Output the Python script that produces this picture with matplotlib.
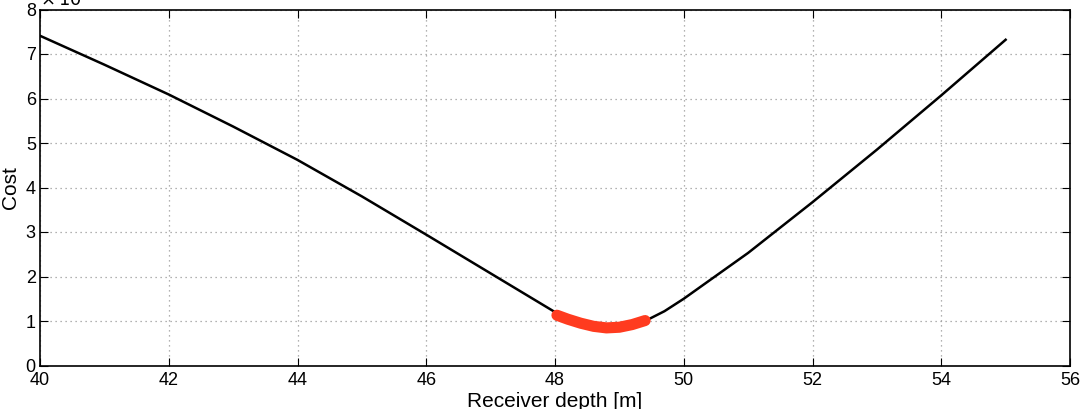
import matplotlib.pyplot as plt

plt.rcParams['font.family'] = ['Liberation Sans', 'DejaVu Sans']

# black cost curve (values in units of 10^4)
depth = [40, 41, 42, 43, 44, 45, 46, 47, 48, 48.5, 48.8, 49.1, 49.4, 49.7,
         50, 51, 52, 53, 54, 55]
cost = [7.41, 6.76, 6.09, 5.37, 4.62, 3.8, 2.94, 2.07, 1.2, 0.92, 0.845, 0.88, 1.0, 1.22,
        1.5, 2.53, 3.67, 4.85, 6.07, 7.32]

# red highlighted segment near the minimum
red_depth = [48.03, 48.2, 48.4, 48.6, 48.8, 49.0, 49.2, 49.4]
red_cost = [1.13, 1.04, 0.95, 0.88, 0.845, 0.86, 0.92, 1.01]

fig = plt.figure(figsize=(10.8, 4.09), dpi=100)
ax = fig.add_axes([40 / 1080, 43.5 / 409, 1030 / 1080, 356 / 409])

ax.plot(depth, cost, color='black', lw=1.8)
ax.plot(red_depth, red_cost, color='#ff3b1f', lw=8, solid_capstyle='round')

ax.set_xlim(40, 56)
ax.set_ylim(0, 8)
ax.set_xticks(range(40, 57, 2))
ax.set_yticks(range(0, 9))
ax.grid(True, linestyle=(0, (1, 3)), color='#999999', lw=0.9)
ax.tick_params(direction='in', length=6, labelsize=13, top=True, right=True)
ax.tick_params(axis='x', pad=5)
ax.tick_params(axis='y', pad=3)
for s in ax.spines.values():
    s.set_linewidth(1.2)

ax.set_xlabel('Receiver depth [m]', fontsize=15, labelpad=2)
ax.set_ylabel('Cost', fontsize=15, labelpad=4)
ax.text(0.0, 1.0, r'$\times\,10^4$', transform=ax.transAxes, fontsize=13,
        ha='left', va='bottom')

fig.savefig('out.png', dpi=100)
